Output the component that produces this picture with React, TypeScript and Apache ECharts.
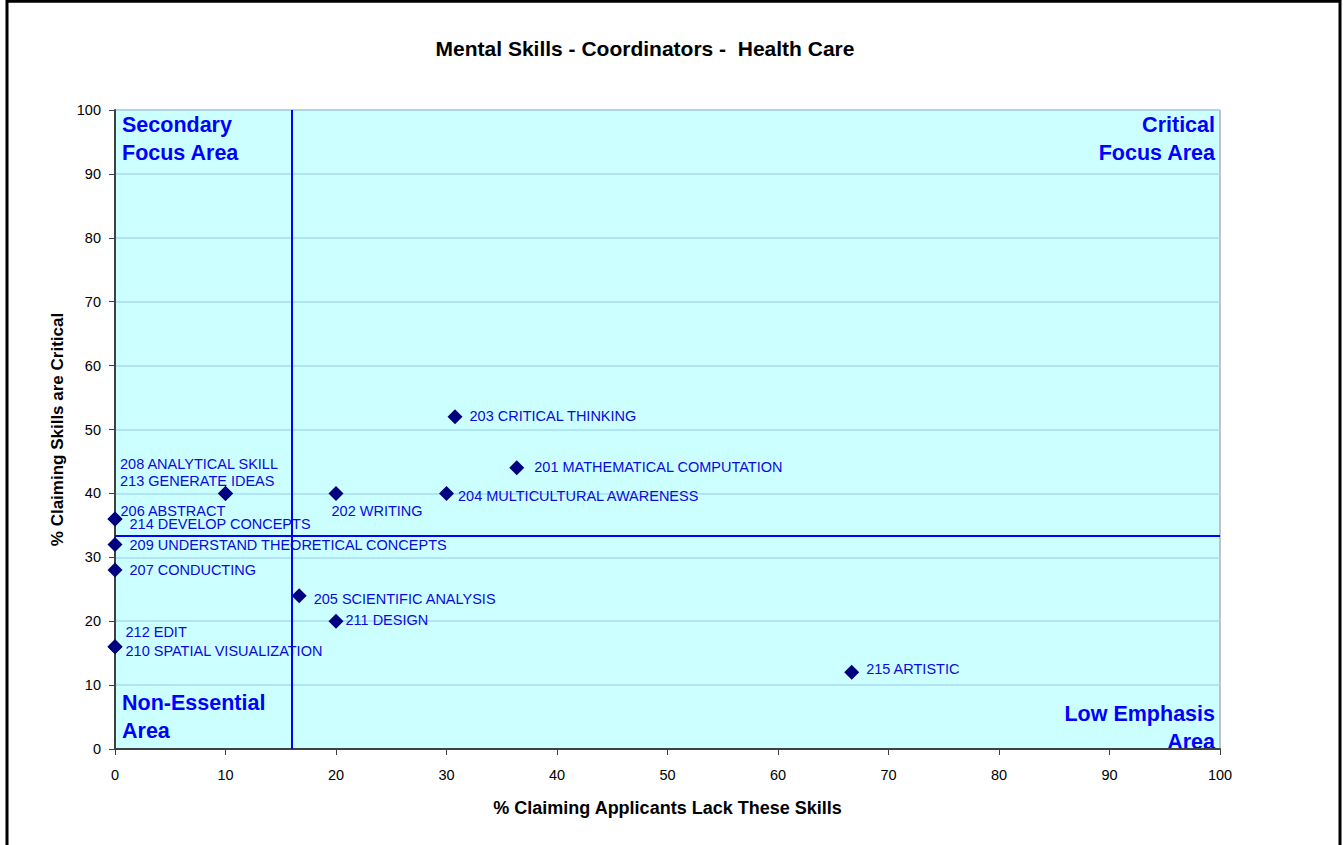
import React, { useEffect, useRef } from "react";
import * as echarts from "echarts";

// ---- data ----
const skillNames: string[] = [
  "203 CRITICAL THINKING",
  "201 MATHEMATICAL COMPUTATION",
  "204 MULTICULTURAL AWARENESS",
  "202 WRITING",
  "208 ANALYTICAL SKILL",
  "213 GENERATE IDEAS",
  "206 ABSTRACT",
  "214 DEVELOP CONCEPTS",
  "209 UNDERSTAND THEORETICAL CONCEPTS",
  "207 CONDUCTING",
  "205 SCIENTIFIC ANALYSIS",
  "211 DESIGN",
  "212 EDIT",
  "210 SPATIAL VISUALIZATION",
  "215 ARTISTIC",
];
// % claiming applicants lack these skills
const lackValues: number[] = [30.77, 36.36, 30, 20, 10, 10, 0, 0, 0, 0, 16.67, 20, 0, 0, 66.67];
// % claiming skills are critical
const criticalValues: number[] = [52, 44, 40, 40, 40, 40, 36, 36, 32, 28, 24, 20, 16, 16, 12];

const xThreshold = 16.03;
const yThreshold = 33.4;

const axisTicks: number[] = [0, 10, 20, 30, 40, 50, 60, 70, 80, 90, 100];

const quadrantLabels: string[] = [
  "Secondary\nFocus Area",
  "Critical\nFocus Area",
  "Non-Essential\nArea",
  "Low Emphasis\nArea",
];

// label offsets (style only): [dx, dy] relative to the right side of each marker
const labelOffsets: number[][] = [
  [7, -1], [10, -1], [4, 3], [-12, 18], [-113, -29], [-113, -12],
  [-2, -8], [7, 5], [7, 0], [7, 0], [7, 3], [2, -1], [3, -15], [3, 4], [7, -3],
];

const FONT = "'Liberation Sans', Arial, Helvetica, sans-serif";

export default function App() {
  const ref = useRef<HTMLDivElement>(null);

  useEffect(() => {
    if (!ref.current) return;
    const chart = echarts.init(ref.current, undefined, { renderer: "svg" });

    const data = skillNames.map((name, i) => ({
      name,
      value: [lackValues[i], criticalValues[i]],
      label: {
        show: true,
        position: "right",
        distance: 0,
        offset: labelOffsets[i],
        formatter: name,
      },
    }));

    const qStyle = {
      fill: "#0000FF",
      font: `bold 21.5px ${FONT}`,
      lineHeight: 28,
    };

    chart.setOption({
      animation: false,
      backgroundColor: "#FFFFFF",
      title: {
        text: "Mental Skills - Coordinators -  Health Care",
        left: 640,
        top: 33,
        textAlign: "center",
        textStyle: { fontFamily: FONT, fontWeight: "bold", fontSize: 21, color: "#000" },
      },
      grid: {
        left: 115,
        top: 110,
        right: 123,
        bottom: 96,
        show: true,
        backgroundColor: "#CCFFFF",
        borderColor: "#8C8C8C",
        borderWidth: 1,
      },
      xAxis: {
        type: "value",
        min: 0,
        max: 100,
        interval: 10,
        name: "% Claiming Applicants Lack These Skills",
        nameLocation: "middle",
        nameGap: 50,
        nameTextStyle: { fontFamily: FONT, fontWeight: "bold", fontSize: 18, color: "#000" },
        axisLine: { show: true, lineStyle: { color: "#404040", width: 2 } },
        axisTick: { show: true, length: 6, lineStyle: { color: "#404040", width: 1 } },
        axisLabel: {
          margin: 18,
          fontFamily: FONT,
          fontSize: 14.5,
          color: "#000",
          formatter: (v: number) => (axisTicks.includes(v) ? String(v) : ""),
        },
        splitLine: { show: false },
      },
      yAxis: {
        type: "value",
        min: 0,
        max: 100,
        interval: 10,
        name: "% Claiming Skills are Critical",
        nameLocation: "middle",
        nameGap: 47,
        nameTextStyle: { fontFamily: FONT, fontWeight: "bold", fontSize: 17, color: "#000" },
        axisLine: { show: true, lineStyle: { color: "#404040", width: 2 } },
        axisTick: { show: true, length: 6, lineStyle: { color: "#404040", width: 1 } },
        axisLabel: {
          margin: 14,
          fontFamily: FONT,
          fontSize: 14.5,
          color: "#000",
          formatter: (v: number) => (axisTicks.includes(v) ? String(v) : ""),
        },
        splitLine: { show: true, lineStyle: { color: "#A8DCF2", width: 1.5 } },
      },
      series: [
        {
          type: "scatter",
          symbol: "diamond",
          symbolSize: [15, 15],
          itemStyle: { color: "#000080", opacity: 1 },
          label: {
            color: "#0A0ADC",
            fontFamily: FONT,
            fontSize: 14.5,
          },
          data,
          markLine: {
            silent: true,
            symbol: "none",
            label: { show: false },
            lineStyle: { color: "#0000FF", width: 2, type: "solid" },
            data: [{ xAxis: xThreshold }, { yAxis: yThreshold }],
          },
          z: 3,
        },
      ],
      graphic: [
        {
          type: "rect",
          shape: { x: 7, y: 1.3, width: 1333, height: 1000 },
          style: { fill: "none", stroke: "#000", lineWidth: 3 },
          silent: true,
        },
        {
          type: "text",
          x: 122,
          y: 111,
          style: { ...qStyle, text: quadrantLabels[0], align: "left", verticalAlign: "top" },
        },
        {
          type: "text",
          x: 1215,
          y: 111,
          style: { ...qStyle, text: quadrantLabels[1], align: "right", verticalAlign: "top" },
        },
        {
          type: "text",
          x: 122,
          y: 689,
          style: { ...qStyle, text: quadrantLabels[2], align: "left", verticalAlign: "top" },
        },
        {
          type: "text",
          x: 1215,
          y: 700,
          style: { ...qStyle, text: quadrantLabels[3], align: "right", verticalAlign: "top" },
        },
      ],
    });

    return () => chart.dispose();
  }, []);

  return (
    <div
      ref={ref}
      style={{ position: "fixed", left: 0, top: 0, width: 1343, height: 845 }}
    />
  );
}
